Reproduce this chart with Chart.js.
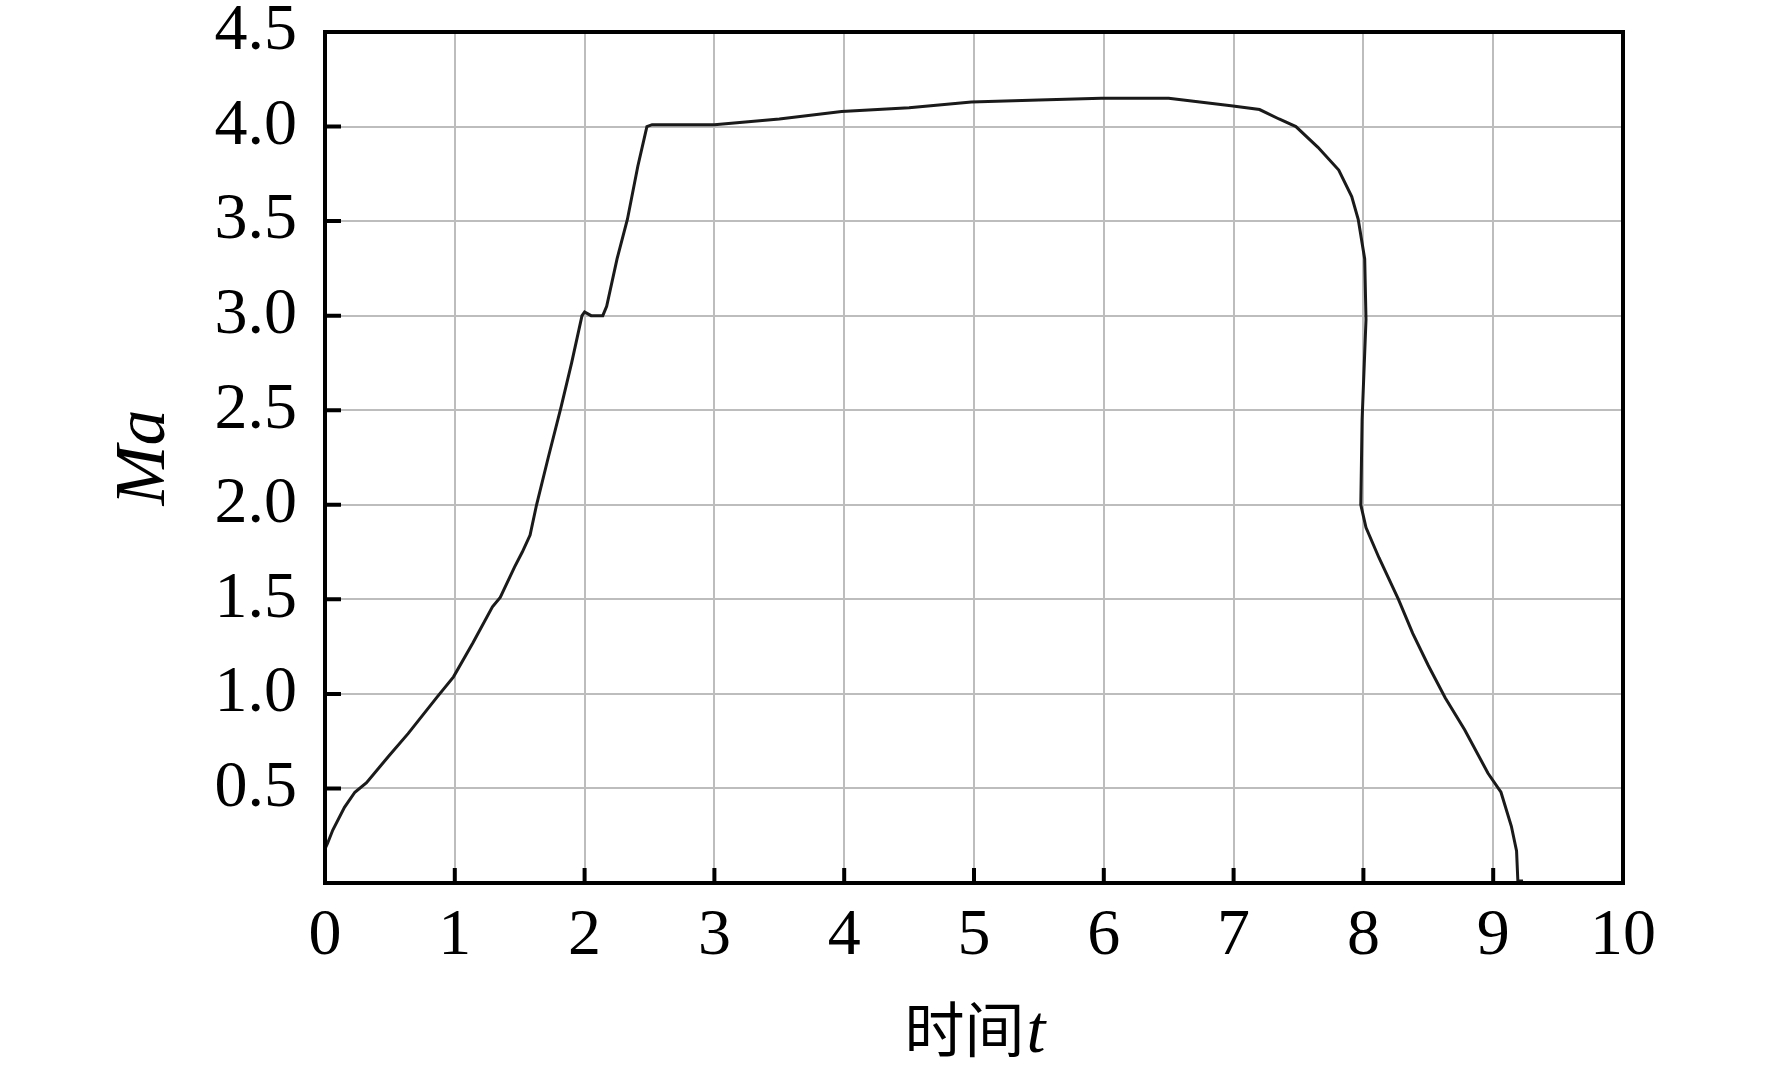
<!DOCTYPE html>
<html>
<head>
<meta charset="utf-8">
<script src="https://cdn.jsdelivr.net/npm/chart.js@4"></script>
<style>
  html, body { margin: 0; padding: 0; background: #fff; }
  #wrap { width: 1772px; height: 1077px; }
</style>
</head>
<body>
<div id="wrap"><canvas id="machChart"></canvas></div>
<script>
// time (t) and Mach number
const timeT = [0.00, 0.02, 0.06, 0.15, 0.23, 0.32, 0.49, 0.64, 0.86, 0.99, 1.14, 1.29, 1.35, 1.46, 1.52, 1.58, 1.63,
               1.72, 1.82, 1.90, 1.98, 2.00, 2.05, 2.14, 2.17, 2.25, 2.33, 2.41, 2.48, 2.52, 3.00, 3.50, 3.98,
               4.50, 4.98, 5.50, 5.98, 6.50, 6.98, 7.20, 7.35, 7.48, 7.65, 7.81, 7.91, 7.96, 8.01, 8.02, 7.99,
               7.98, 8.02, 8.12, 8.27, 8.38, 8.50, 8.63, 8.78, 8.96, 9.06, 9.14, 9.18, 9.19, 9.23];
const mach  = [0.18, 0.21, 0.28, 0.40, 0.48, 0.53, 0.67, 0.79, 0.98, 1.09, 1.27, 1.46, 1.51, 1.67, 1.75, 1.84, 2.00,
               2.25, 2.52, 2.75, 3.00, 3.02, 3.00, 3.00, 3.05, 3.30, 3.51, 3.79, 4.00, 4.01, 4.01, 4.04, 4.08,
               4.10, 4.13, 4.14, 4.15, 4.15, 4.11, 4.09, 4.04, 4.00, 3.89, 3.77, 3.63, 3.51, 3.30, 2.98, 2.45,
               2.00, 1.88, 1.72, 1.50, 1.32, 1.15, 0.98, 0.81, 0.58, 0.48, 0.30, 0.17, 0.01, 0.01];

const xTicks = [0, 1, 2, 3, 4, 5, 6, 7, 8, 9, 10];
const yTicks = [0.5, 1.0, 1.5, 2.0, 2.5, 3.0, 3.5, 4.0, 4.5];

const AXIS_COLOR = '#000';
const GRID_COLOR = '#bdbdbd';
const LINE_COLOR = '#1a1a1a';
const SERIF = '"Liberation Serif", "Times New Roman", serif';

// frame on all four sides plus inward tick marks on left/bottom
const framePlugin = {
    id: 'frame',
    afterDatasetsDraw(chart) {
        const { ctx, chartArea: a, scales } = chart;
        ctx.save();
        ctx.strokeStyle = AXIS_COLOR;
        ctx.lineWidth = 4;
        ctx.strokeRect(a.left, a.top, a.right - a.left, a.bottom - a.top);
        ctx.beginPath();
        xTicks.forEach(v => {
            const px = scales.x.getPixelForValue(v);
            ctx.moveTo(px, a.bottom);
            ctx.lineTo(px, a.bottom - 15);
        });
        yTicks.forEach(v => {
            const py = scales.y.getPixelForValue(v);
            ctx.moveTo(a.left, py);
            ctx.lineTo(a.left + 16, py);
        });
        ctx.stroke();
        ctx.restore();
    },
    afterDraw(chart) {
        // x axis title: 时间 + italic t
        const { ctx, chartArea: a } = chart;
        ctx.save();
        ctx.fillStyle = '#000';
        ctx.textBaseline = 'alphabetic';
        const cjkFont = '60px "Noto Sans CJK SC", sans-serif';
        const tFont = 'italic 68px ' + SERIF;
        ctx.font = cjkFont;
        const w1 = ctx.measureText('时间').width;
        ctx.font = tFont;
        const w2 = ctx.measureText('t').width;
        const cx = (a.left + a.right) / 2;
        const x0 = cx - (w1 + w2) / 2;
        const base = 1052;
        ctx.font = cjkFont;
        ctx.fillText('时间', x0, base);
        ctx.font = tFont;
        ctx.fillText('t', x0 + w1 + 2, base);
        ctx.restore();
    }
};

new Chart(document.getElementById('machChart'), {
    type: 'line',
    data: {
        datasets: [{
            data: timeT.map((t, i) => ({ x: t, y: mach[i] })),
            borderColor: LINE_COLOR,
            borderWidth: 3,
            pointRadius: 0,
            tension: 0,
            fill: false
        }]
    },
    options: {
        responsive: true,
        maintainAspectRatio: false,
        animation: false,
        layout: { padding: { top: 32, right: 149, left: 0, bottom: 0 } },
        plugins: {
            legend: { display: false },
            tooltip: { enabled: false }
        },
        scales: {
            x: {
                type: 'linear',
                min: 0,
                max: 10,
                afterFit: s => { s.height = 194; s.paddingLeft = 0; s.paddingRight = 0; },
                afterBuildTicks: s => { s.ticks = xTicks.map(v => ({ value: v })); },
                grid: { color: GRID_COLOR, lineWidth: 2, drawTicks: false },
                border: { color: AXIS_COLOR, width: 4 },
                ticks: {
                    color: '#000',
                    padding: 14,
                    maxRotation: 0,
                    font: { family: SERIF, size: 66 },
                    callback: v => String(v)
                }
            },
            y: {
                type: 'linear',
                min: 0,
                max: 4.5,
                afterFit: s => { s.width = 325; s.paddingTop = 0; s.paddingBottom = 0; },
                afterBuildTicks: s => { s.ticks = yTicks.map(v => ({ value: v })); },
                grid: { color: GRID_COLOR, lineWidth: 2, drawTicks: false },
                border: { color: AXIS_COLOR, width: 4 },
                title: {
                    display: true,
                    text: 'Ma',
                    color: '#000',
                    padding: { top: 102 },
                    font: { family: SERIF, size: 72, style: 'italic' }
                },
                ticks: {
                    color: '#000',
                    padding: 28,
                    font: { family: SERIF, size: 66 },
                    callback: v => v.toFixed(1)
                }
            }
        }
    },
    plugins: [framePlugin]
});
</script>
</body>
</html>
